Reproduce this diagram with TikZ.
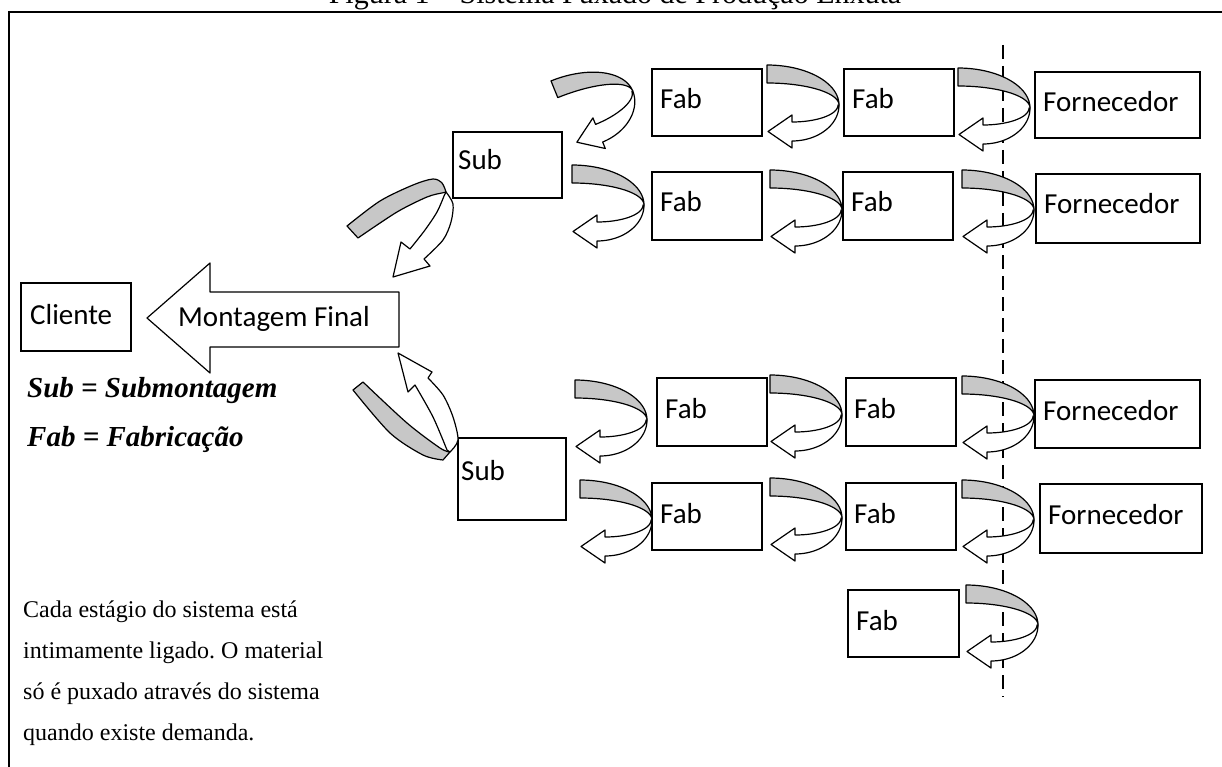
\documentclass[tikz,border=0pt]{standalone}
\usepackage{fontspec}
\setmainfont{Liberation Serif}
\newfontfamily\calib{Carlito}
\frenchspacing
\begin{document}
\begin{tikzpicture}[x=1pt,y=-1pt,
  bx/.style={draw,line width=1.3pt,rectangle,inner sep=0pt,outer sep=0pt},
  lbl/.style={font=\calib\fontsize{29}{32}\selectfont,inner sep=0pt,anchor=base west},
  shp/.style={draw,line width=1.2pt,line join=round},
  grayband/.style={shp,fill=black!22},
  whitearrow/.style={shp,fill=white},
  pics/carr/.style args={#1/#2/#3/#4/#5/#6/#7/#8}{code={
    \path[grayband] plot[domain=-90:0,samples=30] ({#1*cos(\x)},{#2*sin(\x)})
       -- plot[domain=0:-90,samples=30] ({#1*cos(\x)},{(#2-#3)*sin(\x)}) -- cycle;
    \path[whitearrow] plot[domain=0:90,samples=30] ({#4+(#1-#4)*cos(\x)},{#5*sin(\x)})
       -- (#4,#5+#7) -- (#4-#8,#5-#6/2) -- (#4,#5-#6-#7) -- (#4,#5-#6)
       -- plot[domain=90:0,samples=30] ({#4+(#1-#4-1)*cos(\x)},{(#5-#6)*sin(\x)}) -- cycle;
  }}
]
\useasboundingbox (0,0) rectangle (1222,767);
% title (cut at top)
\node[anchor=base,inner sep=0pt,font=\fontsize{30}{34}\selectfont] (title) at (615,4) {Figura 1 -- Sistema Puxado de Produção Enxuta};
% frame
\draw[line width=2.5pt] (8,12) -- (1230,12);
\draw[line width=2.5pt] (9,11) -- (9,770);
% dashed line
\coordinate (dtop) at (1003,45);
\coordinate (dbot) at (1003,697);
\draw[line width=1.5pt,dash pattern=on 14pt off 7pt] (dtop) -- (dbot);

\newcommand\mkbox[6]{%
  \node[bx,minimum width={(#4-#2)*1pt},minimum height={(#5-#3)*1pt}] (#1) at ({(#2+#4)/2},{(#3+#5)/2}) {};
  \node[lbl] (#1t) at ([xshift=8pt,yshift=-40pt]#1.north west) {#6};}

% Cliente
\mkbox{cli}{21}{283}{131}{351}{}
\node[lbl] (clit) at (30,324) {Cliente};
% Montagem final arrow
\path[shp,fill=white] (147,318) -- (210,263) -- (210,292) -- (399,292) -- (399,347) -- (210,347) -- (210,373) -- cycle;
\node[lbl] (mf) at (178,326) {Montagem Final};

% Sub boxes
\mkbox{sub1}{453}{132}{562}{198}{}
\node[lbl] (sub1t) at (458,170) {Sub};
\mkbox{sub2}{458}{438}{566}{520}{}
\node[lbl] (sub2t) at (461,480) {Sub};

% Row 1
\mkbox{f11}{652}{69}{762}{136}{Fab}
\mkbox{f12}{844}{69}{954}{136}{Fab}
\mkbox{fo1}{1035}{72}{1200}{138}{Fornecedor}
% Row 2
\mkbox{f21}{652}{172}{762}{240}{Fab}
\mkbox{f22}{843}{172}{953}{240}{Fab}
\mkbox{fo2}{1036}{174}{1200}{243}{Fornecedor}
% Row 3
\mkbox{f31}{657}{378}{767}{446}{Fab}
\mkbox{f32}{846}{378}{956}{446}{Fab}
\mkbox{fo3}{1035}{380}{1200}{448}{Fornecedor}
% Row 4
\mkbox{f41}{652}{483}{762}{550}{Fab}
\mkbox{f42}{846}{483}{956}{550}{Fab}
\mkbox{fo4}{1040}{484}{1202}{553}{Fornecedor}
% Row 5
\mkbox{f51}{848}{590}{959}{657}{Fab}

% standard curved arrows
\pic at (767,105) {carr=72/40/18/25/36/19/7/24};
\pic at (958,108) {carr=72/40/18/25/36/19/7/24};
\pic at (770,210) {carr=72/40/18/25/36/19/7/24};
\pic at (962,210) {carr=72/40/18/25/36/19/7/24};
\pic at (770,415) {carr=72/40/18/25/36/19/7/24};
\pic at (962,416) {carr=72/40/18/25/36/19/7/24};
\pic at (770,518) {carr=72/40/18/25/36/19/7/24};
\pic at (962,520) {carr=72/40/18/25/36/19/7/24};
\pic at (966,625) {carr=72/40/18/25/36/19/7/24};
% left arrows
\pic[rotate=22] at (566,118) {carr=72/40/18/25/36/19/7/24};
\pic at (572,205) {carr=72/40/18/25/36/19/7/24};
\pic at (575,420) {carr=72/40/18/25/36/19/7/24};
\pic at (580,520) {carr=72/40/18/25/36/19/7/24};

% C1
\path[grayband] plot[smooth] coordinates {(347,226) (380,201) (413,185) (433,179) (442,183) (446,192)}
  -- plot[smooth] coordinates {(442,193) (427,197) (397,212) (358,238)} -- cycle;
\path[whitearrow] plot[smooth] coordinates {(446,192) (453,204) (451,222) (443,240) (424,259)}
  -- (430,266) -- (393,277) -- (401,242) -- (410,249)
  -- plot[smooth] coordinates {(410,249) (425,230) (437,212) (444,196)} -- cycle;
% C2
\path[grayband] plot[smooth] coordinates {(363,382) (407,423) (440,448) (450,452)}
  -- plot[smooth] coordinates {(443,460) (423,455) (390,433) (353,390)} -- cycle;
\path[whitearrow] plot[smooth] coordinates {(450,452) (458,440) (453,417) (443,395) (428,378)}
  -- (432,372) -- (398,353) -- (408,392) -- (415,385)
  -- plot[smooth] coordinates {(415,385) (433,417) (447,450)} -- cycle;

% legend
\node[anchor=base west,inner sep=0pt,font=\bfseries\itshape\fontsize{29}{32}\selectfont] (leg1) at (27,397) {Sub = Submontagem};
\node[anchor=base west,inner sep=0pt,font=\bfseries\itshape\fontsize{29}{32}\selectfont] (leg2) at (27,446) {Fab = Fabricação};
% note
\node[anchor=base west,inner sep=0pt,align=left,font=\fontsize{24}{41}\selectfont] (note) at (23,740)
  {Cada estágio do sistema está\\intimamente ligado. O material\\só é puxado através do sistema\\quando existe demanda.};
\end{tikzpicture}
\end{document}
